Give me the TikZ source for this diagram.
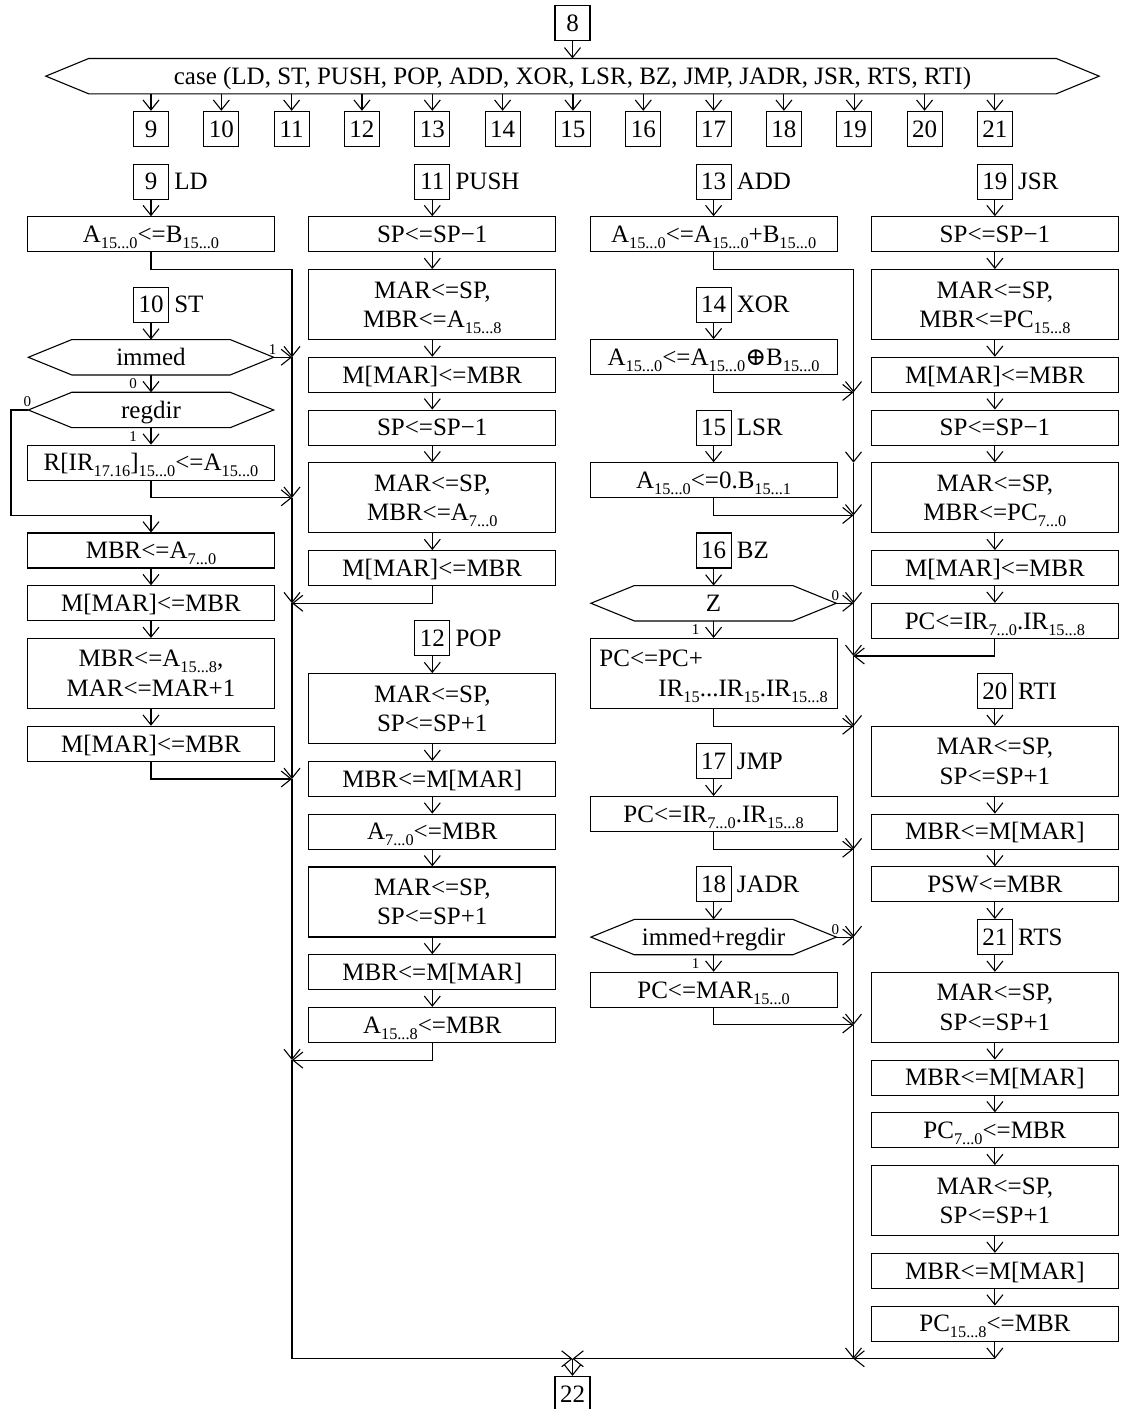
\documentclass[tikz,border=0pt]{standalone}
\usepackage{fontspec}
\setmainfont{Liberation Serif}
\newfontfamily\opfont{DejaVu Serif}
\usetikzlibrary{arrows.meta,positioning,calc}

% lowered small index, e.g. A_{15...0}
\newcommand\lo[1]{\raisebox{-6pt}{\fontsize{16.3}{16.3}\selectfont #1}}
% two centred lines in one action box
\newcommand\two[2]{\begin{tabular}[t]{@{}c@{}}#1\\#2\end{tabular}}
% vertical grid: row k of the chart
\newcommand\ky[1]{164+17.57*(#1)}
% hexagonal outline around a named body node, with tip coordinates <name>R and <name>L
\newcommand\hexframe[2][43.5]{%
  \draw[outl] (#2.north west) -- (#2.north east) -- ($(#2.east)+(#1,0)$) --
    (#2.south east) -- (#2.south west) -- ($(#2.west)+(-#1,0)$) -- cycle;
  \coordinate (#2R) at ($(#2.east)+(#1,0)$);
  \coordinate (#2L) at ($(#2.west)+(-#1,0)$);}

\begin{document}
\begin{tikzpicture}[x=1pt,y=-1pt,
  every node/.style={font=\fontsize{25}{29.5}\selectfont, inner sep=0pt},
  outl/.style={line width=1.1pt, line join=miter},
  act/.style={draw, line width=1.1pt, minimum width=247pt, minimum height=35pt,
    text height=16.4pt, text depth=0pt},
  act2/.style={act, minimum height=70pt, text depth=29.5pt},
  num/.style={draw, line width=1.1pt, minimum width=35pt, minimum height=35pt,
    text height=16.4pt, text depth=0pt},
  tag/.style={text height=16.4pt, text depth=0pt},
  hexbody/.style={minimum width=158pt, minimum height=35pt, text height=16.4pt, text depth=0pt},
  flag/.style={font=\fontsize{15}{15}\selectfont},
  ln/.style={line width=1.1pt},
  ar/.style={line width=1.1pt, -{Straight Barb[length=10pt,width=16pt]}},
]
\useasboundingbox (0,0) rectangle (1120,1409);

% ---------- dispatch ----------
\node[num] (n8) at (572.5,{\ky{-8}}) {8};
\node[hexbody, minimum width=967pt] (case) at (572.5,{\ky{-5}})
  {case (LD, ST, PUSH, POP, ADD, XOR, LSR, BZ, JMP, JADR, JSR, RTS, RTI)};
\hexframe[43]{case}
\foreach \i in {9,...,21}
  \node[num] (c\i) at ({151+70.325*(\i-9)},{\ky{-2}}) {\i};
\draw[ar] (n8) -- (case);
\foreach \i in {9,...,21}
  \draw[ar] (case.south -| c\i) -- (c\i);

% ---------- column 1: LD, ST ----------
\node[num] (n9) at (151,{\ky{1}}) {9};
\node[tag, right=5pt of n9] (t9) {LD};
\node[act] (a1) at (151,{\ky{4}}) {A\lo{15...0}<=B\lo{15...0}};
\node[num] (n10) at (151,{\ky{8}}) {10};
\node[tag, right=5pt of n10] (t10) {ST};
\node[hexbody] (imm) at (151,{\ky{11}}) {immed};
\hexframe{imm}
\node[hexbody] (reg) at (151,{\ky{14}}) {regdir};
\hexframe{reg}
\node[act] (a2) at (151,{\ky{17}}) {R[IR\lo{17.16}]\lo{15...0}<=A\lo{15...0}};
\node[act] (a3) at (151,{\ky{22}}) {MBR<=A\lo{7...0}};
\node[act] (a4) at (151,{\ky{25}}) {M[MAR]<=MBR};
\node[act2] (a5) at (151,{\ky{29}}) {\two{MBR<=A\lo{15...8},}{MAR<=MAR+1}};
\node[act] (a6) at (151,{\ky{33}}) {M[MAR]<=MBR};

\node[flag] (f1) at ($(immR)+(-1,-8)$) {1};
\node[flag] (f2) at (133,{\ky{12.5}}) {0};
\node[flag] (f3) at ($(regL)+(-1,-8)$) {0};
\node[flag] (f4) at (133,{\ky{15.5}}) {1};

% ---------- column 2: PUSH, POP ----------
\node[num] (n11) at (432.3,{\ky{1}}) {11};
\node[tag, right=5pt of n11] (t11) {PUSH};
\node[act] (p1) at (432.3,{\ky{4}}) {SP<=SP−1};
\node[act2] (p2) at (432.3,{\ky{8}}) {\two{MAR<=SP,}{MBR<=A\lo{15...8}}};
\node[act] (p3) at (432.3,{\ky{12}}) {M[MAR]<=MBR};
\node[act] (p4) at (432.3,{\ky{15}}) {SP<=SP−1};
\node[act2] (p5) at (432.3,{\ky{19}}) {\two{MAR<=SP,}{MBR<=A\lo{7...0}}};
\node[act] (p6) at (432.3,{\ky{23}}) {M[MAR]<=MBR};
\node[num] (n12) at (432.3,{\ky{27}}) {12};
\node[tag, right=5pt of n12] (t12) {POP};
\node[act2] (q1) at (432.3,{\ky{31}}) {\two{MAR<=SP,}{SP<=SP+1}};
\node[act] (q2) at (432.3,{\ky{35}}) {MBR<=M[MAR]};
\node[act] (q3) at (432.3,{\ky{38}}) {A\lo{7...0}<=MBR};
\node[act2] (q4) at (432.3,{\ky{42}}) {\two{MAR<=SP,}{SP<=SP+1}};
\node[act] (q5) at (432.3,{\ky{46}}) {MBR<=M[MAR]};
\node[act] (q6) at (432.3,{\ky{49}}) {A\lo{15...8}<=MBR};

% ---------- column 3: ADD, XOR, LSR, BZ, JMP, JADR ----------
\node[num] (n13) at (713.6,{\ky{1}}) {13};
\node[tag, right=5pt of n13] (t13) {ADD};
\node[act] (d1) at (713.6,{\ky{4}}) {A\lo{15...0}<=A\lo{15...0}+B\lo{15...0}};
\node[num] (n14) at (713.6,{\ky{8}}) {14};
\node[tag, right=5pt of n14] (t14) {XOR};
\node[act] (x1) at (713.6,{\ky{11}}) {A\lo{15...0}<=A\lo{15...0}{\opfont ⊕}B\lo{15...0}};
\node[num] (n15) at (713.6,{\ky{15}}) {15};
\node[tag, right=5pt of n15] (t15) {LSR};
\node[act] (s1) at (713.6,{\ky{18}}) {A\lo{15...0}<=0.B\lo{15...1}};
\node[num] (n16) at (713.6,{\ky{22}}) {16};
\node[tag, right=5pt of n16] (t16) {BZ};
\node[hexbody] (zz) at (713.6,{\ky{25}}) {Z};
\hexframe{zz}
\node[act, minimum height=70pt, text depth=29.5pt] (b1) at (713.6,{\ky{29}})
  {\begin{tabular}[t]{@{}l@{}}PC<=PC+\\\hspace*{59pt}IR\lo{15}...IR\lo{15}.IR\lo{15...8}\end{tabular}};
\node[num] (n17) at (713.6,{\ky{34}}) {17};
\node[tag, right=5pt of n17] (t17) {JMP};
\node[act] (j1) at (713.6,{\ky{37}}) {PC<=IR\lo{7...0}.IR\lo{15...8}};
\node[num] (n18) at (713.6,{\ky{41}}) {18};
\node[tag, right=5pt of n18] (t18) {JADR};
\node[hexbody] (jr) at (713.6,{\ky{44}}) {immed+regdir};
\hexframe{jr}
\node[act] (j2) at (713.6,{\ky{47}}) {PC<=MAR\lo{15...0}};

\node[flag] (f5) at ($(zzR)+(-1,-8)$) {0};
\node[flag] (f6) at (695.6,{\ky{26.5}}) {1};
\node[flag] (f7) at ($(jrR)+(-1,-8)$) {0};
\node[flag] (f8) at (695.6,{\ky{45.5}}) {1};

% ---------- column 4: JSR, RTI, RTS ----------
\node[num] (n19) at (994.9,{\ky{1}}) {19};
\node[tag, right=5pt of n19] (t19) {JSR};
\node[act] (r1) at (994.9,{\ky{4}}) {SP<=SP−1};
\node[act2] (r2) at (994.9,{\ky{8}}) {\two{MAR<=SP,}{MBR<=PC\lo{15...8}}};
\node[act] (r3) at (994.9,{\ky{12}}) {M[MAR]<=MBR};
\node[act] (r4) at (994.9,{\ky{15}}) {SP<=SP−1};
\node[act2] (r5) at (994.9,{\ky{19}}) {\two{MAR<=SP,}{MBR<=PC\lo{7...0}}};
\node[act] (r6) at (994.9,{\ky{23}}) {M[MAR]<=MBR};
\node[act] (r7) at (994.9,{\ky{26}}) {PC<=IR\lo{7...0}.IR\lo{15...8}};
\node[num] (n20) at (994.9,{\ky{30}}) {20};
\node[tag, right=5pt of n20] (t20) {RTI};
\node[act2] (i1) at (994.9,{\ky{34}}) {\two{MAR<=SP,}{SP<=SP+1}};
\node[act] (i2) at (994.9,{\ky{38}}) {MBR<=M[MAR]};
\node[act] (i3) at (994.9,{\ky{41}}) {PSW<=MBR};
\node[num] (n21) at (994.9,{\ky{44}}) {21};
\node[tag, right=5pt of n21] (t21) {RTS};
\node[act2] (u1) at (994.9,{\ky{48}}) {\two{MAR<=SP,}{SP<=SP+1}};
\node[act] (u2) at (994.9,{\ky{52}}) {MBR<=M[MAR]};
\node[act] (u3) at (994.9,{\ky{55}}) {PC\lo{7...0}<=MBR};
\node[act2] (u4) at (994.9,{\ky{59}}) {\two{MAR<=SP,}{SP<=SP+1}};
\node[act] (u5) at (994.9,{\ky{63}}) {MBR<=M[MAR]};
\node[act] (u6) at (994.9,{\ky{66}}) {PC\lo{15...8}<=MBR};

% ---------- exit ----------
\node[num] (n22) at (572.5,{\ky{70}}) {22};

% ---------- bus junctions ----------
\coordinate (bL0) at (292,{\ky{6}});
\coordinate (bL1) at (292,{\ky{11}});
\coordinate (bL2) at (292,{\ky{19}});
\coordinate (bL3) at (292,{\ky{25}});
\coordinate (bL4) at (292,{\ky{35}});
\coordinate (bL5) at (292,{\ky{51}});
\coordinate (bLe) at (292,{\ky{68}});
\coordinate (bM0) at (853.5,{\ky{6}});
\coordinate (bM1) at (853.5,{\ky{13}});
\coordinate (bM2) at (853.5,{\ky{17}});
\coordinate (bM3) at (853.5,{\ky{20}});
\coordinate (bM4) at (853.5,{\ky{25}});
\coordinate (bM5) at (853.5,{\ky{28}});
\coordinate (bM6) at (853.5,{\ky{32}});
\coordinate (bM7) at (853.5,{\ky{39}});
\coordinate (bM8) at (853.5,{\ky{44}});
\coordinate (bM9) at (853.5,{\ky{49}});
\coordinate (bMe) at (853.5,{\ky{68}});
\coordinate (lft) at (11,{\ky{20}});
\coordinate (rc) at (994.9,{\ky{68}});
\coordinate (join) at (572.5,{\ky{68}});

% ---------- flow: column 1 ----------
\draw[ar] (n9) -- (a1);
\draw[ln] (a1) |- (bL0);
\draw[ar] (n10) -- (imm);
\draw[ar] (imm) -- (reg);
\draw[ar] (immR) -- (bL1);
\draw[ar] (reg) -- (a2);
\draw[ar] (a2) |- (bL2);
\draw[ar] (regL) -| (lft) -| (a3);
\draw[ar] (a3) -- (a4);
\draw[ar] (a4) -- (a5);
\draw[ar] (a5) -- (a6);
\draw[ar] (a6) |- (bL4);

% ---------- flow: column 2 ----------
\draw[ar] (n11) -- (p1);
\draw[ar] (p1) -- (p2);
\draw[ar] (p2) -- (p3);
\draw[ar] (p3) -- (p4);
\draw[ar] (p4) -- (p5);
\draw[ar] (p5) -- (p6);
\draw[ar] (p6) |- (bL3);
\draw[ar] (n12) -- (q1);
\draw[ar] (q1) -- (q2);
\draw[ar] (q2) -- (q3);
\draw[ar] (q3) -- (q4);
\draw[ar] (q4) -- (q5);
\draw[ar] (q5) -- (q6);
\draw[ar] (q6) |- (bL5);

% ---------- flow: column 3 ----------
\draw[ar] (n13) -- (d1);
\draw[ln] (d1) |- (bM0);
\draw[ar] (n14) -- (x1);
\draw[ar] (x1) |- (bM1);
\draw[ar] (n15) -- (s1);
\draw[ar] (s1) |- (bM3);
\draw[ar] (n16) -- (zz);
\draw[ar] (zzR) -- (bM4);
\draw[ar] (zz) -- (b1);
\draw[ar] (b1) |- (bM6);
\draw[ar] (n17) -- (j1);
\draw[ar] (j1) |- (bM7);
\draw[ar] (n18) -- (jr);
\draw[ar] (jrR) -- (bM8);
\draw[ar] (jr) -- (j2);
\draw[ar] (j2) |- (bM9);

% ---------- flow: column 4 ----------
\draw[ar] (n19) -- (r1);
\draw[ar] (r1) -- (r2);
\draw[ar] (r2) -- (r3);
\draw[ar] (r3) -- (r4);
\draw[ar] (r4) -- (r5);
\draw[ar] (r5) -- (r6);
\draw[ar] (r6) -- (r7);
\draw[ar] (r7) |- (bM5);
\draw[ar] (n20) -- (i1);
\draw[ar] (i1) -- (i2);
\draw[ar] (i2) -- (i3);
\draw[ar] (i3) -- (n21);
\draw[ar] (n21) -- (u1);
\draw[ar] (u1) -- (u2);
\draw[ar] (u2) -- (u3);
\draw[ar] (u3) -- (u4);
\draw[ar] (u4) -- (u5);
\draw[ar] (u5) -- (u6);
\draw[ar] (u6) -- (rc);
\draw[ar] (rc) -- (bMe);

% ---------- buses ----------
\draw[ar] (bL0) -- (bL1);
\draw[ar] (bL1) -- (bL2);
\draw[ar] (bL2) -- (bL3);
\draw[ar] (bL3) -- (bL4);
\draw[ar] (bL4) -- (bL5);
\draw[ln] (bL5) -- (bLe);
\draw[ar] (bM0) -- (bM1);
\draw[ar] (bM1) -- (bM2);
\draw[ar] (bM2) -- (bM3);
\draw[ar] (bM3) -- (bM4);
\draw[ar] (bM4) -- (bM5);
\draw[ar] (bM5) -- (bM6);
\draw[ar] (bM6) -- (bM7);
\draw[ar] (bM7) -- (bM8);
\draw[ar] (bM8) -- (bM9);
\draw[ar] (bM9) -- (bMe);
\draw[ar] (bLe) -- (join);
\draw[ar] (bMe) -- (join);
\draw[ar] (join) -- (n22);
\end{tikzpicture}
\end{document}
